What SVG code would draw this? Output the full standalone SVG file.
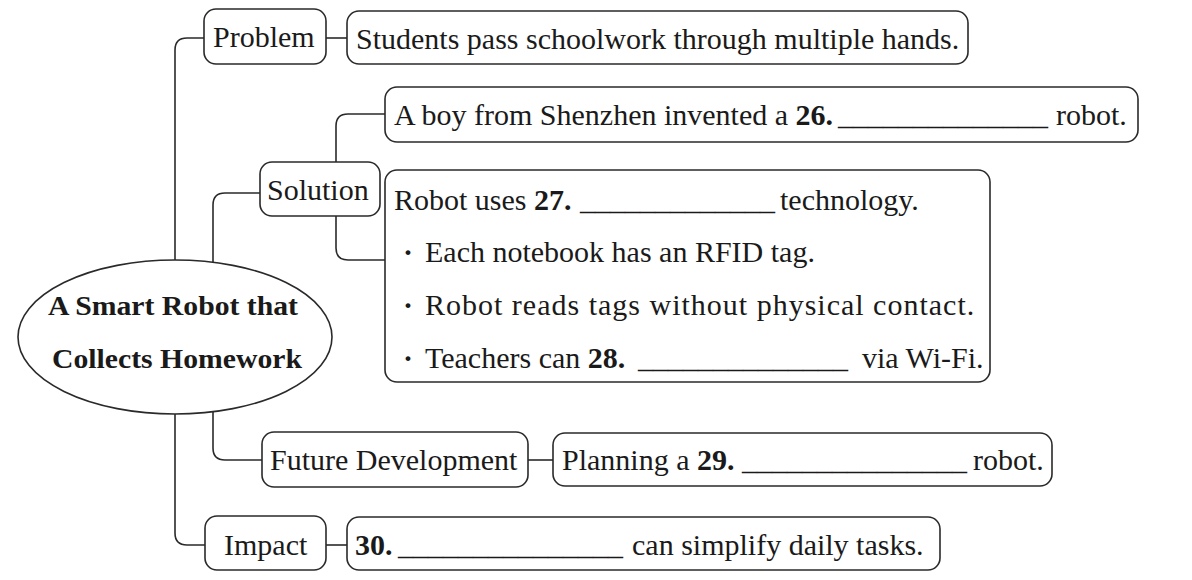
<svg xmlns="http://www.w3.org/2000/svg" width="1192" height="580" viewBox="0 0 1192 580">
<style>
.box{fill:#fff;stroke:#2a2a2a;stroke-width:1.6}
.ln{fill:none;stroke:#2a2a2a;stroke-width:1.6}
text{font-family:"Liberation Serif","Times New Roman",serif;font-size:30px;fill:#1a1a1a}
.b{font-weight:bold}
.title{font-size:27px;font-weight:bold}
</style>
<rect width="1192" height="580" fill="#fff"/>
<g id="connectors">
<path class="ln" d="M205,38 H187 Q175,38 175,50 V533 Q175,545 187,545 H205"/>
<path class="ln" d="M260,193 H225 Q213,193 213,205 V448 Q213,460 225,460 H262"/>
<path class="ln" d="M385,114 H348 Q336,114 336,126 V248 Q336,260 348,260 H385"/>
<path class="ln" d="M326,38 H347"/>
<path class="ln" d="M326,545 H347"/>
<path class="ln" d="M528,460 H553"/>
</g>
<g id="center">
<ellipse class="box" cx="175" cy="337" rx="157" ry="77"/>
<text class="title" x="173" y="315" text-anchor="middle" textLength="250" lengthAdjust="spacingAndGlyphs">A Smart Robot that</text>
<text class="title" x="177" y="368" text-anchor="middle" textLength="250" lengthAdjust="spacingAndGlyphs">Collects Homework</text>
</g>
<g id="problem">
<rect class="box" x="204" y="9" width="122" height="55" rx="12"/>
<text x="213" y="47">Problem</text>
</g>
<g id="problem-detail">
<rect class="box" x="347" y="11" width="621" height="53" rx="12"/>
<text x="356" y="49">Students pass schoolwork through multiple hands.</text>
</g>
<g id="solution">
<rect class="box" x="260" y="162" width="120" height="54" rx="12"/>
<text x="267" y="200">Solution</text>
</g>
<g id="solution-inventor">
<rect class="box" x="385" y="87" width="753" height="55" rx="12"/>
<text y="125"><tspan x="394">A boy from Shenzhen invented a </tspan><tspan class="b">26.</tspan><tspan x="838">______________</tspan><tspan x="1056">robot.</tspan></text>
</g>
<g id="solution-tech">
<rect class="box" x="385" y="170" width="605" height="212" rx="12"/>
<text y="210"><tspan x="394">Robot uses </tspan><tspan class="b">27.</tspan><tspan x="580">_____________</tspan><tspan x="780">technology.</tspan></text>
<text y="262"><tspan class="b" x="403">·</tspan><tspan x="425">Each notebook has an RFID tag.</tspan></text>
<text y="315"><tspan class="b" x="403">·</tspan><tspan x="425" letter-spacing="1">Robot reads tags without physical contact.</tspan></text>
<text y="368"><tspan class="b" x="403">·</tspan><tspan x="425">Teachers can </tspan><tspan class="b">28.</tspan><tspan x="638">______________</tspan><tspan x="862">via Wi-Fi.</tspan></text>
</g>
<g id="future">
<rect class="box" x="262" y="432" width="266" height="55" rx="12"/>
<text x="270" y="470">Future Development</text>
</g>
<g id="future-detail">
<rect class="box" x="553" y="433" width="499" height="53" rx="12"/>
<text y="470"><tspan x="562">Planning a </tspan><tspan class="b">29.</tspan><tspan x="742">_______________</tspan><tspan x="973">robot.</tspan></text>
</g>
<g id="impact">
<rect class="box" x="205" y="516" width="121" height="54" rx="12"/>
<text x="224" y="555">Impact</text>
</g>
<g id="impact-detail">
<rect class="box" x="347" y="517" width="593" height="53" rx="12"/>
<text y="555"><tspan class="b" x="355">30.</tspan><tspan x="398">_______________</tspan><tspan x="632">can simplify daily tasks.</tspan></text>
</g>
</svg>
